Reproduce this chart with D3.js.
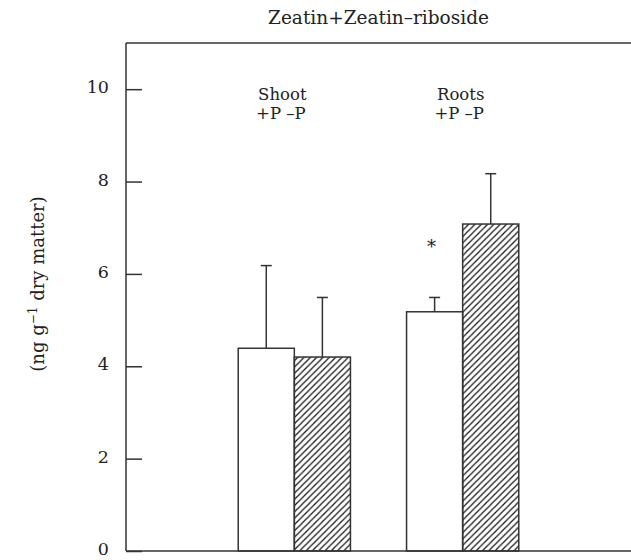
<!DOCTYPE html>
<html>
<head>
<meta charset="utf-8">
<script src="https://cdn.jsdelivr.net/npm/d3@7"></script>
<style>
  html, body { margin: 0; padding: 0; background: #fff; }
  svg { display: block; }
  text { font-family: "DejaVu Serif", serif; fill: #222; }
</style>
</head>
<body>
<svg id="chart" width="631" height="560"></svg>
<script>
// ---- data ----
const groups = ["Shoot", "Roots"];
const treatments = ["+P", "-P"];
const treatmentLabel = "+P \u2013P";
const shootValues = [4.39, 4.20];
const shootErrors = [1.79, 1.29];
const rootValues = [5.18, 7.08];
const rootErrors = [0.31, 1.09];
const yTicks = [0, 2, 4, 6, 8, 10];
const yDomain = [0, 11];
const title = "Zeatin+Zeatin\u2013riboside";
const significance = [{ group: "Roots", treatment: "+P", level: 6.66, mark: "*" }];

(function () {
const rows = [];
groups.forEach((g, gi) => {
  const vals = gi === 0 ? shootValues : rootValues;
  const errs = gi === 0 ? shootErrors : rootErrors;
  treatments.forEach((t, ti) => rows.push({ group: g, treatment: t, value: vals[ti], err: errs[ti] }));
});

// ---- layout ----
const mLeft = 126, mRight = 631, mTop = 43, mBottom = 551;
const svg = d3.select("#chart");

const x0 = d3.scaleBand().domain(groups).range([mLeft, mRight])
  .paddingInner(1 / 3).paddingOuter(2 / 3);
const x1 = d3.scaleBand().domain(treatments).range([0, x0.bandwidth()]);
const y = d3.scaleLinear().domain(yDomain).range([mBottom, mTop]);

const ink = "#333";

// hatch pattern
const defs = svg.append("defs");
const s = 6.3;
defs.append("pattern").attr("id", "hatch")
  .attr("patternUnits", "userSpaceOnUse").attr("width", s).attr("height", s)
  .append("path")
  .attr("d", `M-1,1 l2,-2 M0,${s} l${s},${-s} M${s - 1},${s + 1} l2,-2`)
  .attr("stroke", "#111").attr("stroke-width", 1.2);

// top frame line
svg.append("line").attr("x1", mLeft).attr("x2", mRight).attr("y1", y(yDomain[1])).attr("y2", y(yDomain[1]))
  .attr("stroke", ink).attr("stroke-width", 1.5);

// y axis
const yAxis = d3.axisLeft(y).tickValues(yTicks).tickSize(-16).tickPadding(17).tickFormat(d3.format("d"));
const ga = svg.append("g").attr("transform", `translate(${mLeft},0)`).call(yAxis);
ga.select(".domain").attr("stroke", ink).attr("stroke-width", 1.5)
  .attr("d", `M0,${y(yDomain[1])}V${y(0)}`);
ga.selectAll(".tick line").attr("stroke", ink).attr("stroke-width", 1.5);
ga.selectAll(".tick text").attr("font-family", "DejaVu Serif").attr("font-size", 17.5)
  .attr("fill", "#222").attr("dy", "0.2em");

// error bars (upper only)
const capW = 11;
const eb = svg.append("g");
rows.forEach(d => {
  const cx = x0(d.group) + x1(d.treatment) + x1.bandwidth() / 2;
  eb.append("line").attr("x1", cx).attr("x2", cx).attr("y1", y(d.value)).attr("y2", y(d.value + d.err))
    .attr("stroke", ink).attr("stroke-width", 1.5);
  eb.append("line").attr("x1", cx - capW / 2).attr("x2", cx + capW / 2)
    .attr("y1", y(d.value + d.err)).attr("y2", y(d.value + d.err))
    .attr("stroke", ink).attr("stroke-width", 1.5);
});

// bars
svg.append("g").selectAll("rect").data(rows).join("rect")
  .attr("x", d => x0(d.group) + x1(d.treatment))
  .attr("y", d => y(d.value))
  .attr("width", x1.bandwidth())
  .attr("height", d => y(0) - y(d.value))
  .attr("fill", d => d.treatment === "+P" ? "#fff" : "url(#hatch)")
  .attr("stroke", ink).attr("stroke-width", 1.5);

// baseline on top
svg.append("line").attr("x1", mLeft).attr("x2", mRight).attr("y1", y(0)).attr("y2", y(0))
  .attr("stroke", ink).attr("stroke-width", 1.5);

// group labels (two lines)
const shift = { Shoot: -12, Roots: -2 };
groups.forEach(g => {
  const cx = x0(g) + x0.bandwidth() / 2 + shift[g];
  svg.append("text").attr("x", cx).attr("y", 99.5).attr("text-anchor", "middle")
    .attr("font-size", 16.5).text(g);
  svg.append("text").attr("x", cx - 1.5).attr("y", 118.5).attr("text-anchor", "middle")
    .attr("font-size", 16.5).text(treatmentLabel);
});

// significance mark
significance.forEach(m => {
  const cx = x0(m.group) + x1(m.treatment) + x1.bandwidth() / 2 - 3;
  svg.append("text").attr("x", cx).attr("y", y(m.level) + 10).attr("text-anchor", "middle")
    .attr("font-size", 18).text(m.mark);
});

// title
svg.append("text").attr("x", (mLeft + mRight) / 2).attr("y", 23.5).attr("text-anchor", "middle")
  .attr("font-size", 18.5).text(title);

// y label
const yl = svg.append("text")
  .attr("transform", `translate(44,${(y(0) + y(yDomain[1])) / 2 - 13}) rotate(-90)`)
  .attr("text-anchor", "middle").attr("font-size", 18);
yl.append("tspan").text("(ng g");
yl.append("tspan").attr("font-size", 12).attr("dy", -7).text("\u22121");
yl.append("tspan").attr("dy", 7).text(" dry matter)");
})();
</script>
</body>
</html>
